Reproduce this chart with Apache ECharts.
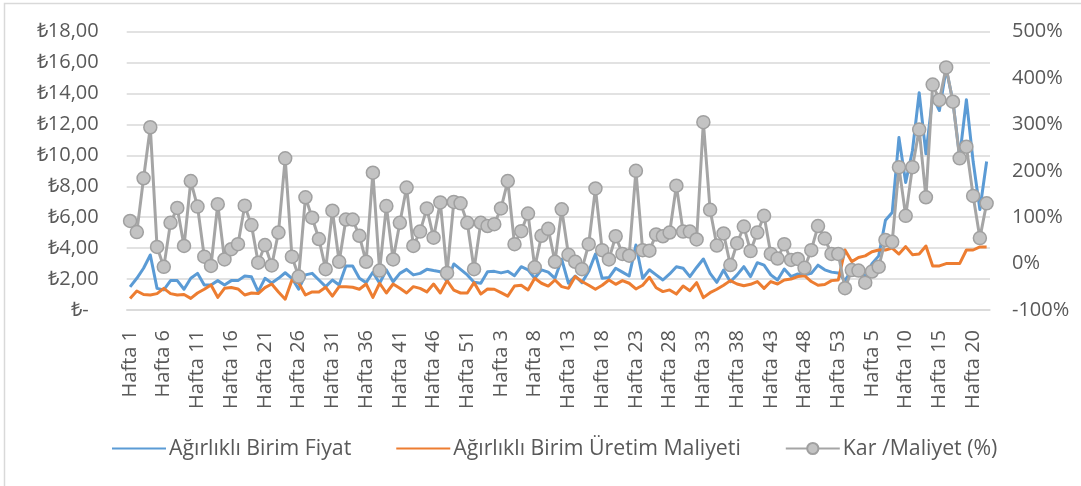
<!DOCTYPE html>
<html>
<head>
<meta charset="utf-8">
<script src="https://cdn.jsdelivr.net/npm/echarts/dist/echarts.min.js"></script>
<style>
html,body{margin:0;padding:0;background:#fff;}
#chart{width:1081px;height:486px;}
</style>
</head>
<body>
<div id="chart"></div>
<script>
// Categories: three consecutive years of weeks
const year1Weeks = 53;
const year2Weeks = 53;
const year3Weeks = 22;
const categories = [];
for (let w = 1; w <= year1Weeks; w++) categories.push('Hafta ' + w);
for (let w = 1; w <= year2Weeks; w++) categories.push('Hafta ' + w);
for (let w = 1; w <= year3Weeks; w++) categories.push('Hafta ' + w);

const seriesNames = ['Ağırlıklı Birim Fiyat', 'Ağırlıklı Birim Üretim Maliyeti', 'Kar /Maliyet (%)'];

const birimFiyat = [
 1.5,2.05,2.7,3.56,1.4,1.3,1.9,1.9,1.34,2.05,
 2.37,1.62,1.62,1.9,1.62,1.9,1.9,2.2,2.15,1.19,
 2.05,1.75,2.05,2.41,2.05,1.35,2.27,2.37,1.94,1.51,
 1.94,1.62,2.85,2.85,2.05,1.77,2.44,1.73,2.59,1.83,
 2.37,2.63,2.27,2.37,2.63,2.55,2.48,1.83,2.98,2.63,
 2.27,1.8,1.73,2.48,2.5,2.4,2.5,2.22,2.8,2.6,
 2.05,2.6,2.45,2.05,3.28,1.73,2.2,1.77,2.5,3.62,
 2.05,2.1,2.7,2.45,2.2,4.2,2.05,2.6,2.27,1.94,
 2.33,2.8,2.7,2.16,2.75,3.3,2.37,1.79,2.59,1.83,
 2.27,2.8,2.16,3.06,2.9,2.27,1.94,2.65,2.16,2.33,
 2.27,2.37,2.9,2.6,2.45,2.4,1.9,2.6,2.8,2.1,
 3.0,3.5,5.8,6.3,11.15,8.25,10.3,14.05,10.1,13.8,
 12.9,15.6,13.5,9.9,13.6,9.6,6.5,9.6
];

const uretimMaliyeti = [
 0.75,1.23,1.0,0.97,1.06,1.4,1.06,0.97,1.0,0.75,
 1.1,1.34,1.62,0.82,1.4,1.45,1.36,0.97,1.1,1.06,
 1.45,1.68,1.17,0.7,1.94,1.75,0.97,1.17,1.17,1.47,
 0.9,1.51,1.51,1.47,1.34,1.68,0.82,1.73,1.1,1.68,
 1.4,1.1,1.51,1.4,1.17,1.68,1.1,1.9,1.28,1.1,
 1.1,1.77,1.03,1.36,1.34,1.12,0.9,1.55,1.6,1.3,
 2.05,1.73,1.55,1.94,1.51,1.4,2.16,1.84,1.6,1.34,
 1.6,1.94,1.66,1.9,1.73,1.36,1.6,2.12,1.44,1.19,
 1.3,1.03,1.55,1.25,1.77,0.8,1.12,1.34,1.6,1.9,
 1.68,1.57,1.66,1.84,1.4,1.84,1.68,1.94,2.0,2.16,
 2.22,1.84,1.6,1.65,1.9,1.94,3.88,3.13,3.4,3.5,
 3.77,3.88,3.88,4.0,3.62,4.1,3.58,3.62,4.14,2.85,
 2.85,3.0,3.0,3.0,3.88,3.88,4.08,4.08
];

const karMaliyet = [
 92,68,184,294,36,-7,88,120,38,178,
 123,15,-5,128,9,31,42,125,83,2,
 40,-4,67,227,15,-28,143,99,53,-12,
 114,4,95,95,60,4,196,-15,124,9,
 88,164,38,69,119,56,132,-20,133,130,
 88,-12,88,81,85,119,178,42,70,108,
 -8,60,75,4,117,19,4,-12,42,162,
 29,9,59,21,17,200,29,28,63,59,
 67,168,69,69,52,305,116,39,65,-3,
 44,80,27,67,103,21,11,42,8,10,
 -9,29,81,54,21,21,-53,-14,-15,-41,
 -17,-7,51,47,208,103,208,289,143,386,
 353,423,349,227,252,146,55,130
];

const leftAxisTicks = { min: 0, max: 18, interval: 2 };
const rightAxisTicks = { min: -100, max: 500, interval: 100 };

const FONT = 'Open Sans';
const TXT = '#595959';

const chart = echarts.init(document.getElementById('chart'), null, { renderer: 'canvas' });
chart.setOption({
  animation: false,
  backgroundColor: '#ffffff',
  textStyle: { fontFamily: FONT },
  graphic: [{
    type: 'rect', silent: true, z: -10,
    shape: { x: 4.5, y: 3.5, width: 1200, height: 600 },
    style: { fill: 'none', stroke: '#d9d9d9', lineWidth: 1.5 }
  }],
  grid: { left: 126.7, right: 91, top: 31.7, bottom: 176, containLabel: false },
  legend: {
    left: 106, top: 433,
    itemWidth: 54, itemHeight: 14, itemGap: 44,
    textStyle: { fontFamily: FONT, fontSize: 21.3, color: TXT, padding: [0, 0, 0, -2] },
    data: [
      { name: seriesNames[0], itemStyle: { opacity: 0 } },
      { name: seriesNames[1], itemStyle: { opacity: 0 } },
      { name: seriesNames[2] }
    ]
  },
  xAxis: {
    type: 'category',
    data: categories,
    boundaryGap: true,
    axisLine: { show: true, lineStyle: { color: '#d9d9d9', width: 1.5 } },
    axisTick: { show: false },
    axisLabel: { interval: 4, rotate: 90, margin: 20, fontFamily: FONT, fontSize: 20, color: TXT }
  },
  yAxis: [{
    type: 'value',
    min: leftAxisTicks.min, max: leftAxisTicks.max, interval: leftAxisTicks.interval,
    axisLine: { show: false }, axisTick: { show: false },
    splitLine: { show: true, lineStyle: { color: '#d9d9d9', width: 1.5 } },
    axisLabel: {
      margin: 28, fontFamily: FONT, fontSize: 20, color: TXT,
      formatter: function (v) {
        if (v === 0) return '{z|₺-}';
        return '₺' + v.toFixed(2).replace('.', ',');
      },
      rich: { z: { fontFamily: FONT, fontSize: 20, color: TXT, padding: [0, 10, 0, 0] } }
    }
  }, {
    type: 'value',
    min: rightAxisTicks.min, max: rightAxisTicks.max, interval: rightAxisTicks.interval,
    axisLine: { show: false }, axisTick: { show: false },
    splitLine: { show: false },
    axisLabel: {
      margin: 22, fontFamily: FONT, fontSize: 20, color: TXT,
      formatter: function (v) { return v + '%'; }
    }
  }],
  series: [{
    name: seriesNames[0], type: 'line', yAxisIndex: 0,
    data: birimFiyat, symbol: 'none', showSymbol: false,
    lineStyle: { color: '#5b9bd5', width: 3, join: 'round' },
    itemStyle: { color: '#5b9bd5' }, z: 2
  }, {
    name: seriesNames[1], type: 'line', yAxisIndex: 0,
    data: uretimMaliyeti, symbol: 'none', showSymbol: false,
    lineStyle: { color: '#ed7d31', width: 3, join: 'round' },
    itemStyle: { color: '#ed7d31' }, z: 3
  }, {
    name: seriesNames[2], type: 'line', yAxisIndex: 1,
    data: karMaliyet, symbol: 'circle', symbolSize: 13, showSymbol: true, showAllSymbol: true,
    lineStyle: { color: '#a5a5a5', width: 3, join: 'round' },
    itemStyle: { color: '#c3c3c3', borderColor: '#a0a0a0', borderWidth: 1.5 }, z: 4
  }]
});
</script>
</body>
</html>
